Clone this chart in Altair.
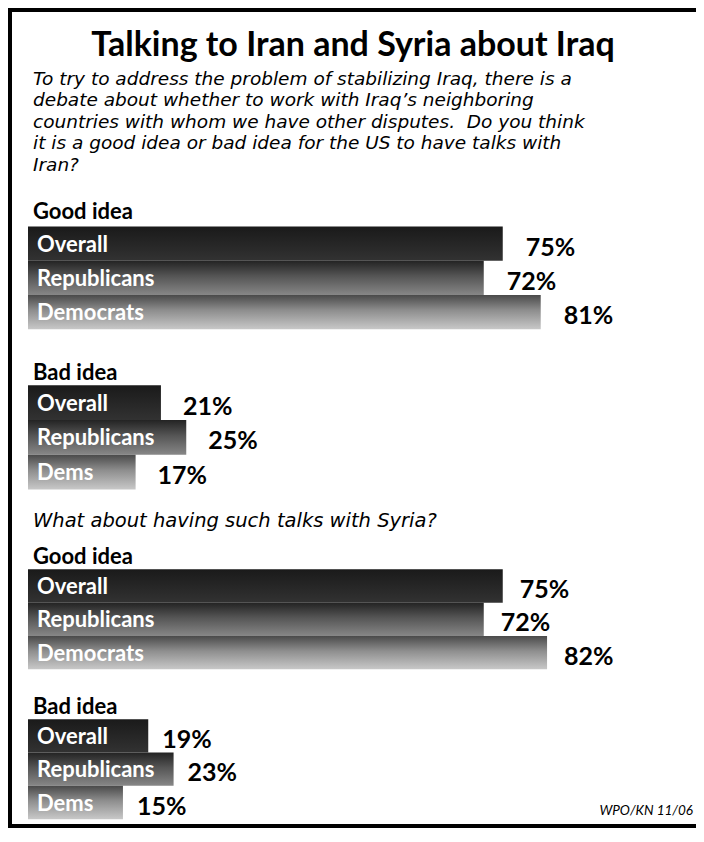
import altair as alt
import pandas as pd

# ---------------- data ----------------
TITLE = "Talking to Iran and Syria about Iraq"
QUESTION_LINES = [
    "To try to address the problem of stabilizing Iraq, there is a",
    "debate about whether to work with Iraq\u2019s neighboring",
    "countries with whom we have other disputes.\u00a0 Do you think",
    "it is a good idea or bad idea for the US to have talks with",
    "Iran?",
]
QUESTION_2 = "What about having such talks with Syria?"
SOURCE = "WPO/KN 11/06"

GROUPS = ["Overall", "Republicans", "Democrats"]
GOOD_LABELS = ["Overall", "Republicans", "Democrats"]
BAD_LABELS = ["Overall", "Republicans", "Dems"]
SECTION_HEADERS = ["Good idea", "Bad idea", "Good idea", "Bad idea"]

IRAN_GOOD = [75, 72, 81]
IRAN_BAD = [21, 25, 17]
SYRIA_GOOD = [75, 72, 82]
SYRIA_BAD = [19, 23, 15]

# ---------------- layout ----------------
W, H = 688, 820
FONT = "Lato"
QFONT = "DejaVu Sans"
# vertical layout in reference units (top of frame = 5, bottom = 842)
sections = [
    dict(header=SECTION_HEADERS[0], labels=GOOD_LABELS, values=IRAN_GOOD, hy=213, top=228, h=35.0, dx=23),
    dict(header=SECTION_HEADERS[1], labels=BAD_LABELS, values=IRAN_BAD, hy=378, top=390, h=35.5, dx=22),
    dict(header=SECTION_HEADERS[2], labels=GOOD_LABELS, values=SYRIA_GOOD, hy=565, top=578, h=34.0, dx=17),
    dict(header=SECTION_HEADERS[3], labels=BAD_LABELS, values=SYRIA_BAD, hy=718, top=731, h=34.0, dx=14),
]

rows = []
for si, s in enumerate(sections):
    for gi, (g, lab, v) in enumerate(zip(GROUPS, s["labels"], s["values"])):
        t = s["top"] + gi * s["h"]
        rows.append(dict(section=si, group=g, label=lab, value=v, start=0,
                         top=t, bottom=t + s["h"], mid=t + s["h"] / 2 + 1,
                         pct=f"{v}%"))
bars = pd.DataFrame(rows)

headers = pd.DataFrame([dict(text=s["header"], y=s["hy"], start=0) for s in sections])
qtext = pd.DataFrame([dict(text=t, y=77 + 22 * i, start=0) for i, t in enumerate(QUESTION_LINES)])
q2_df = pd.DataFrame([dict(text=QUESTION_2, y=529, start=0)])
title_df = pd.DataFrame([dict(text=TITLE, y=44)])
source_df = pd.DataFrame([dict(text=SOURCE, y=829)])
dummy = pd.DataFrame({"a": [0]})

xs = alt.Scale(domain=[0, 100], range=[20, 653], nice=False, zero=False)
ys = alt.Scale(domain=[5, 842], reverse=True, nice=False, zero=False)

gradients = {
    "Overall": [("#1a1a1a", 0), ("#262626", 0.5), ("#323232", 1)],
    "Republicans": [("#232323", 0), ("#555555", 0.45), ("#878787", 1)],
    "Democrats": [("#4a4a4a", 0), ("#8e8e8e", 0.45), ("#c8c8c8", 1)],
}

layers = []

# frame (left, top, bottom)
layers.append(alt.Chart(dummy).mark_rule(color="black", strokeWidth=4)
              .encode(x=alt.value(2), y=alt.value(0), y2=alt.value(H)))
layers.append(alt.Chart(dummy).mark_rule(color="black", strokeWidth=4)
              .encode(y=alt.value(2), x=alt.value(0), x2=alt.value(W)))
layers.append(alt.Chart(dummy).mark_rule(color="black", strokeWidth=4)
              .encode(y=alt.value(H - 2), x=alt.value(0), x2=alt.value(W)))

for g in GROUPS:
    grad = {
        "gradient": "linear", "x1": 0, "y1": 0, "x2": 0, "y2": 1,
        "stops": [{"color": c, "offset": o} for c, o in gradients[g]],
    }
    layers.append(
        alt.Chart(bars).transform_filter(alt.datum.group == g)
        .mark_rect(color=grad)
        .encode(
            x=alt.X("start:Q", scale=xs, axis=None),
            x2="value:Q",
            y=alt.Y("top:Q", scale=ys, axis=None),
            y2="bottom:Q",
        )
    )

# labels inside bars
layers.append(
    alt.Chart(bars).mark_text(align="left", baseline="middle", dx=9, font=FONT,
                              fontWeight="bold", fontSize=22, color="white")
    .encode(x=alt.X("start:Q", scale=xs, axis=None),
            y=alt.Y("mid:Q", scale=ys, axis=None), text="label:N")
)

# value labels
for si, s in enumerate(sections):
    layers.append(
        alt.Chart(bars).transform_filter(alt.datum.section == si)
        .mark_text(align="left", baseline="middle", dx=s["dx"], dy=3, font=FONT,
                   fontWeight="bold", fontSize=25, color="black")
        .encode(x=alt.X("value:Q", scale=xs, axis=None),
                y=alt.Y("mid:Q", scale=ys, axis=None), text="pct:N")
    )

# section headers
layers.append(
    alt.Chart(headers).mark_text(align="left", baseline="middle", dx=5, font=FONT,
                                 fontWeight="bold", fontSize=22, color="black")
    .encode(x=alt.X("start:Q", scale=xs, axis=None),
            y=alt.Y("y:Q", scale=ys, axis=None), text="text:N")
)

# question text
layers.append(
    alt.Chart(qtext).mark_text(align="left", baseline="middle", dx=5, font=QFONT,
                               fontStyle="italic", fontSize=18.5, color="black")
    .encode(x=alt.X("start:Q", scale=xs, axis=None),
            y=alt.Y("y:Q", scale=ys, axis=None), text="text:N")
)
layers.append(
    alt.Chart(q2_df).mark_text(align="left", baseline="middle", dx=5, font=QFONT,
                               fontStyle="italic", fontSize=19.5, color="black")
    .encode(x=alt.X("start:Q", scale=xs, axis=None),
            y=alt.Y("y:Q", scale=ys, axis=None), text="text:N")
)

# title
layers.append(
    alt.Chart(title_df).mark_text(align="center", baseline="middle", font=FONT,
                                  fontWeight="bold", fontSize=34, color="black")
    .encode(x=alt.value(345), y=alt.Y("y:Q", scale=ys, axis=None), text="text:N")
)

# source
layers.append(
    alt.Chart(source_df).mark_text(align="right", baseline="alphabetic", font=FONT,
                                   fontStyle="italic", fontSize=13.5, color="black")
    .encode(x=alt.value(685), y=alt.Y("y:Q", scale=ys, axis=None), text="text:N")
)

chart = (
    alt.layer(*layers)
    .properties(width=W, height=H, autosize=alt.AutoSizeParams(type="none"), padding=0,
                background="white")
    .configure_view(stroke=None)
)

chart.save("out.html", embed_options={"renderer": "svg", "actions": False})
